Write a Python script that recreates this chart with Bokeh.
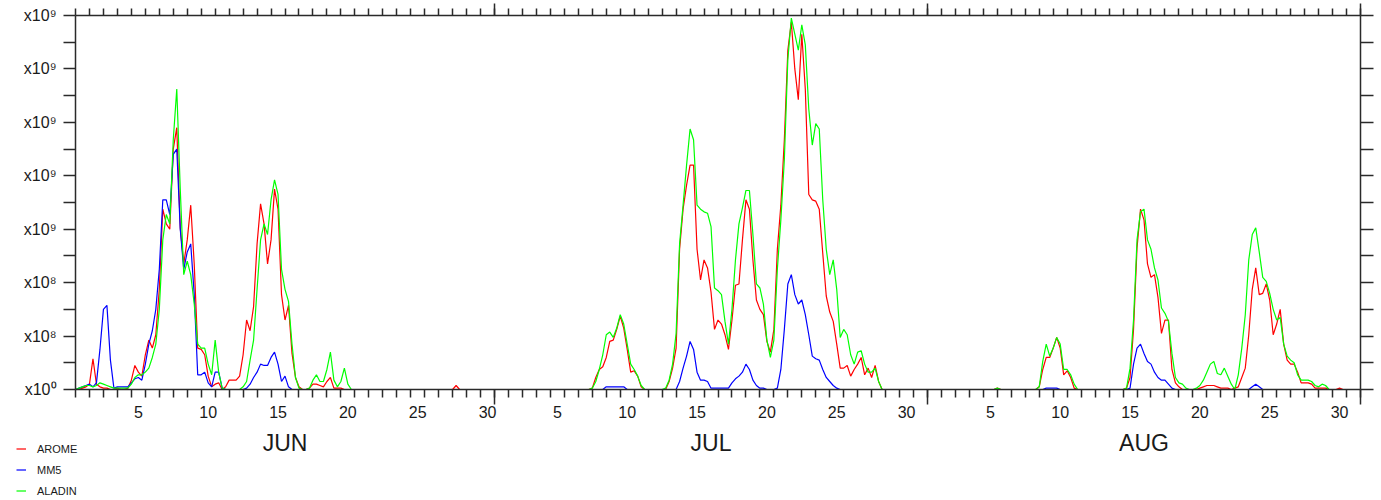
import numpy as np
from bokeh.plotting import figure
from bokeh.layouts import column, row
from bokeh.models import (Range1d, LinearAxis, FixedTicker, Legend, LegendItem,
                          ColumnDataSource)
from bokeh.core.properties import value
from bokeh.embed import file_html
from bokeh.resources import INLINE

# ---------------- data (6-hourly values, units of 1e8, from 1 June 00h) ----------------
STEP_HOURS = 6


def Z(n):
    return [0.0] * n


AROME = ([0, 0, 0.1, 0.2, 0.4, 2.3, 0.4, 0.2, 0.1, 0.1]
         + [0, 0, 0.1, 0, 0, 0.1]
         + [0.7, 1.8, 1.3, 1.0, 2.6, 3.7, 3.1, 4.1, 7.5, 13.5, 12.4, 12.0, 18.0, 19.6, 12.1,
            9.4, 11.2, 13.8, 9.4, 3.1, 3.0, 2.6, 1.0, 0.2, 0.4, 0.5, 0]
         + [0.2, 0.7, 0.7, 0.7, 1.0, 2.6, 5.2, 4.4, 6.2, 10.9, 13.9, 12.4, 9.4, 11.2, 15.0,
            13.5, 7.1, 5.2, 6.3, 2.7, 0.9, 0.2, 0, 0, 0.1, 0.4, 0.4, 0.3, 0.2, 0.6, 0.9,
            0.1, 0.1, 0.1]
         + Z(32) + [0.3] + Z(38)
         + [0.1, 0.9, 1.5, 1.7, 2.4, 3.6, 3.7, 4.5, 5.5, 4.6, 3.0, 1.3, 1.4, 1.0, 0.2]
         + Z(7)
         + [0.6, 1.6, 3.1, 10.5, 13.5, 15.3, 16.8, 16.8, 10.5, 8.2, 9.7, 9.1, 7.3, 4.5, 5.2,
            4.9, 4.1, 3.0, 5.2, 7.8, 7.9, 11.2, 14.2, 13.5, 9.7, 6.7, 6.0, 5.6, 3.6, 2.8,
            4.5, 10.5, 13.8, 18.7, 25.4, 27.5, 24.0, 21.7, 26.6, 22.5, 14.6, 14.2, 14.1,
            13.5, 10.2, 7.0, 5.8, 5.1, 3.4, 1.6, 1.6, 1.8, 1.0, 1.5, 1.9, 2.4, 1.1, 1.6,
            0.9, 1.8, 0.6]
         + Z(33) + [0.1] + Z(11)
         + [0.2, 1.5, 2.4, 2.4, 3.1, 3.9, 3.1, 1.1, 1.4, 0.9, 0.1]
         + Z(14)
         + [0.1, 0.9, 4.5, 10.6, 13.5, 12.7, 9.4, 8.4, 8.6, 6.9, 4.2, 5.2, 5.2, 1.5, 0.5, 0.2]
         + Z(5)
         + [0.1, 0.2, 0.3, 0.3, 0.3, 0.2, 0.1, 0.1, 0.1]
         + Z(1)
         + [0.1, 0.2, 0.9, 1.6, 4.1, 7.5, 9.1, 7.1, 7.2, 7.9, 6.7, 4.1, 4.9, 6.0, 3.4, 2.2,
            1.9, 1.9, 1.3, 0.5, 0.5, 0.5, 0.4, 0.1, 0.1, 0.1, 0.1]
         + Z(3) + [0.1] + Z(6))

MM5 = ([0, 0.1, 0.2, 0.3, 0.4, 0.2, 0.5, 3.0, 6.0, 6.3, 2.2, 0.1]
       + [0.2, 0.2, 0.2, 0.2, 0.5, 0.8, 0.9, 0.7, 1.9, 3.4, 4.4, 6.0, 9.0, 14.2, 14.2, 13.1,
          17.6, 18.0, 12.0, 9.0, 10.3, 10.9, 7.1, 1.1, 1.1, 1.3, 0.5, 0.2, 1.3, 1.3, 0.1]
       + Z(6)
       + [0.1, 0.4, 0.9, 1.3, 1.9, 1.8, 1.8, 2.4, 2.8, 1.9, 0.6, 1.0, 0.2]
       + Z(90)
       + [0.2, 0.2, 0.2, 0.2, 0.2, 0.2]
       + Z(15)
       + [0.6, 1.6, 2.5, 3.6, 3.0, 1.3, 0.7, 0.7, 0.6, 0.1, 0.1, 0.1, 0.1, 0.1, 0.1, 0.5,
          0.8, 1.0, 1.3, 1.9, 1.5, 0.7, 0.3, 0.1, 0.1, 0, 0, 0, 0.1, 1.5, 4.5, 7.9, 8.6,
          7.1, 6.4, 6.7, 5.6, 4.1, 2.5, 2.3, 2.2, 1.5, 0.9, 0.6, 0.3, 0.1]
       + Z(59)
       + [0.1, 0.1, 0.1, 0.1]
       + Z(20)
       + [0.1, 1.9, 3.1, 3.4, 2.7, 2.1, 1.9, 1.3, 0.9, 0.7, 0.7, 0.4, 0.1]
       + Z(22)
       + [0.2, 0.4, 0.2]
       + Z(29))

ALADIN = ([0, 0.1, 0.2, 0.3, 0.3, 0.2, 0.3, 0.5, 0.4, 0.3, 0.2, 0.1, 0.1, 0.1, 0.1, 0.1]
          + [0.4, 0.9, 1.1, 1.1, 1.3, 1.6, 2.4, 3.4, 6.0, 11.2, 13.1, 12.4, 18.7, 22.5, 15.0,
             8.6, 9.6, 8.6, 6.4, 3.4, 3.1, 3.1, 1.9, 1.1, 3.7, 1.3, 0.1]
          + Z(5)
          + [0.2, 0.6, 2.2, 3.7, 7.5, 11.2, 12.4, 11.6, 14.2, 15.7, 14.6, 9.0, 7.5, 6.6, 3.4,
             0.9, 0.1, 0, 0, 0.1, 0.7, 1.1, 0.6, 0.6, 1.5, 2.8, 0.7, 0.2, 0.6, 1.6, 0.4]
          + Z(69)
          + [0.1, 0.6, 1.5, 2.6, 4.1, 4.3, 3.9, 4.6, 5.6, 4.9, 3.4, 1.9, 1.5, 1.0, 0.3]
          + Z(6)
          + [0.1, 0.7, 1.9, 4.2, 10.9, 13.8, 16.8, 19.5, 18.7, 13.8, 13.5, 13.3, 13.2, 12.2,
             7.6, 7.4, 7.1, 5.1, 3.4, 6.0, 9.7, 12.4, 13.6, 14.9, 14.9, 11.6, 7.9, 7.6, 6.4,
             3.7, 2.4, 3.7, 9.0, 12.7, 17.2, 24.7, 27.8, 26.6, 25.4, 27.3, 25.8, 21.0, 18.3,
             19.9, 19.5, 14.2, 10.5, 8.6, 9.7, 7.5, 3.9, 4.5, 4.1, 2.6, 1.9, 2.8, 2.9, 1.9,
             1.3, 1.3, 1.6, 0.6]
          + Z(33) + [0.1] + Z(11)
          + [0.2, 2.1, 3.4, 2.5, 3.1, 3.9, 3.4, 1.5, 1.5, 1.1, 0.4]
          + Z(14)
          + [0.1, 1.6, 5.2, 11.2, 13.3, 13.5, 11.2, 10.5, 9.1, 8.2, 6.1, 5.7, 5.1, 2.7, 0.9,
             0.5, 0.4, 0.1]
          + Z(2)
          + [0.1, 0.3, 0.7, 1.3, 1.9, 2.1, 1.2, 1.1, 1.6, 1.0, 0.4]
          + Z(1)
          + [1.1, 3.1, 5.6, 9.7, 11.6, 12.1, 10.3, 8.4, 8.1, 7.2, 6.0, 5.2, 5.4, 3.4, 2.5,
             2.2, 2.0, 1.1, 0.7, 0.7, 0.7, 0.6, 0.3, 0.2, 0.4, 0.3]
          + Z(10))

SERIES_NAMES = ["AROME", "MM5", "ALADIN"]
SERIES_COLORS = ["#ff0000", "#0000ff", "#00ff00"]

Y_TICKS = [0, 4, 8, 12, 16, 20, 24, 28]
Y_TICK_LABELS = ["x10\u2070", "x10\u2078", "x10\u2078", "x10\u2079", "x10\u2079",
                 "x10\u2079", "x10\u2079", "x10\u2079"]

MONTHS = ["JUN", "JUL", "AUG"]
MONTH_LENGTHS = [30, 31, 31]
DAY_LABELS = [5, 10, 15, 20, 25, 30]

# ---------------- derived ----------------
n = min(len(AROME), len(MM5), len(ALADIN))
times = np.arange(n) * STEP_HOURS / 24.0

month_starts = [int(s) for s in np.cumsum([0] + MONTH_LENGTHS[:-1])]
total_days = int(sum(MONTH_LENGTHS))
month_bounds = [s for s in month_starts[1:]] + [total_days]

day_pos, day_txt = [], []
for s, L in zip(month_starts, MONTH_LENGTHS):
    for d in DAY_LABELS:
        if d <= L:
            day_pos.append(s + d - 0.5)
            day_txt.append(str(d))
month_pos = [s + L / 2.0 for s, L in zip(month_starts, MONTH_LENGTHS)]

src = ColumnDataSource(dict(t=times, AROME=AROME[:n], MM5=MM5[:n], ALADIN=ALADIN[:n]))

# ---------------- layout constants ----------------
W = 1381
MAIN_H = 428
STRIP_H = 500 - MAIN_H
LEG_W = 80
B_LEFT, B_RIGHT, B_TOP = 75, 21, 15
FRAME_BOTTOM = 389
FONT = "Liberation Sans"
AX_COLOR = "#2a2a2a"
TXT_COLOR = "#1a1a1a"


def clean(fig):
    fig.outline_line_color = None
    fig.background_fill_color = "white"
    fig.border_fill_color = "white"
    for g in fig.grid:
        g.visible = False


p = figure(width=W, height=MAIN_H, x_range=Range1d(0, total_days),
           y_range=Range1d(Y_TICKS[0], Y_TICKS[-1]),
           output_backend="svg", toolbar_location=None,
           x_axis_location=None, y_axis_location=None,
           min_border_left=B_LEFT, min_border_right=B_RIGHT, min_border_top=B_TOP,
           min_border_bottom=MAIN_H - FRAME_BOTTOM)
clean(p)


def style(ax, label_size=None, standoff=0):
    ax.axis_line_color = AX_COLOR
    ax.axis_line_width = 1.5
    ax.major_tick_line_color = AX_COLOR
    ax.minor_tick_line_color = AX_COLOR
    ax.major_tick_line_width = 1.5
    ax.minor_tick_line_width = 1.5
    ax.major_tick_in = 0
    ax.minor_tick_in = 0
    ax.major_label_text_font = FONT
    if label_size is None:
        ax.major_label_text_font_size = "0px"
        ax.major_label_text_color = None
    else:
        ax.major_label_text_font_size = label_size
        ax.major_label_text_color = TXT_COLOR
    ax.major_label_standoff = standoff
    return ax


y_minor = [(a + b) / 2 for a, b in zip(Y_TICKS[:-1], Y_TICKS[1:])]

left = style(LinearAxis(ticker=FixedTicker(ticks=Y_TICKS, minor_ticks=y_minor),
                        major_label_overrides=dict(zip(Y_TICKS, Y_TICK_LABELS))),
             "16px", 7)
left.major_tick_out = 12
left.minor_tick_out = 12
p.add_layout(left, "left")

right = style(LinearAxis(ticker=FixedTicker(ticks=Y_TICKS, minor_ticks=y_minor)))
right.major_tick_out = 13
right.minor_tick_out = 13
p.add_layout(right, "right")

day_ticks = list(range(0, total_days + 1))
top = style(LinearAxis(ticker=FixedTicker(ticks=month_bounds, minor_ticks=day_ticks)))
top.major_tick_out = 12
top.minor_tick_out = 7
p.add_layout(top, "above")

bottom = style(LinearAxis(ticker=FixedTicker(ticks=month_bounds, minor_ticks=day_ticks)))
bottom.major_tick_out = 15
bottom.minor_tick_out = 8
p.add_layout(bottom, "below")

days_ax = style(LinearAxis(ticker=FixedTicker(ticks=day_pos, minor_ticks=[]),
                           major_label_overrides=dict(zip(day_pos, day_txt))), "16px", 1)
days_ax.axis_line_color = None
days_ax.major_tick_out = 0
days_ax.minor_tick_out = 0
p.add_layout(days_ax, "below")

for name, col in zip(SERIES_NAMES, SERIES_COLORS):
    p.line("t", name, source=src, line_color=col, line_width=1.2)

# ---------------- lower strip: legend box (left) and month names (right) ----------------
days_per_px = total_days / (W - B_LEFT - B_RIGHT)

leg = figure(width=LEG_W, height=STRIP_H, x_range=Range1d(0, 1), y_range=Range1d(0, 1),
             output_backend="svg", toolbar_location=None,
             x_axis_location=None, y_axis_location=None, min_border=0,
             min_border_left=0, min_border_right=0, min_border_top=0, min_border_bottom=0)
clean(leg)
leg.extra_y_ranges = {"offscreen": Range1d(1000, 2000)}
keys = [leg.line("t", name, source=src, line_color=col, line_width=1.2,
                 y_range_name="offscreen")
        for name, col in zip(SERIES_NAMES, SERIES_COLORS)]
legend = Legend(items=[LegendItem(label=nm, renderers=[r]) for nm, r in zip(SERIES_NAMES, keys)],
                location=(16, -1), orientation="vertical",
                glyph_width=10, glyph_height=21, label_height=21, spacing=0,
                padding=0, margin=0, label_standoff=11,
                border_line_color=None, background_fill_alpha=0,
                label_text_font=FONT, label_text_font_size="11px",
                label_text_color=TXT_COLOR)
leg.add_layout(legend)

p2 = figure(width=W - LEG_W, height=STRIP_H,
            x_range=Range1d((LEG_W - B_LEFT) * days_per_px, (W - B_LEFT) * days_per_px),
            y_range=Range1d(0, STRIP_H),
            output_backend="svg", toolbar_location=None,
            x_axis_location=None, y_axis_location=None, min_border=0,
            min_border_left=0, min_border_right=0, min_border_top=0, min_border_bottom=0)
clean(p2)
MONTH_LABEL_Y = STRIP_H - 14
p2.text(x=month_pos, y=[MONTH_LABEL_Y] * len(month_pos), text=MONTHS,
        text_font=value(FONT), text_font_size="23px", text_align="center",
        text_baseline="middle", text_color=TXT_COLOR)

layout = column(p, row(leg, p2, spacing=0), spacing=0)
open("out.html", "w").write(file_html(layout, INLINE))
